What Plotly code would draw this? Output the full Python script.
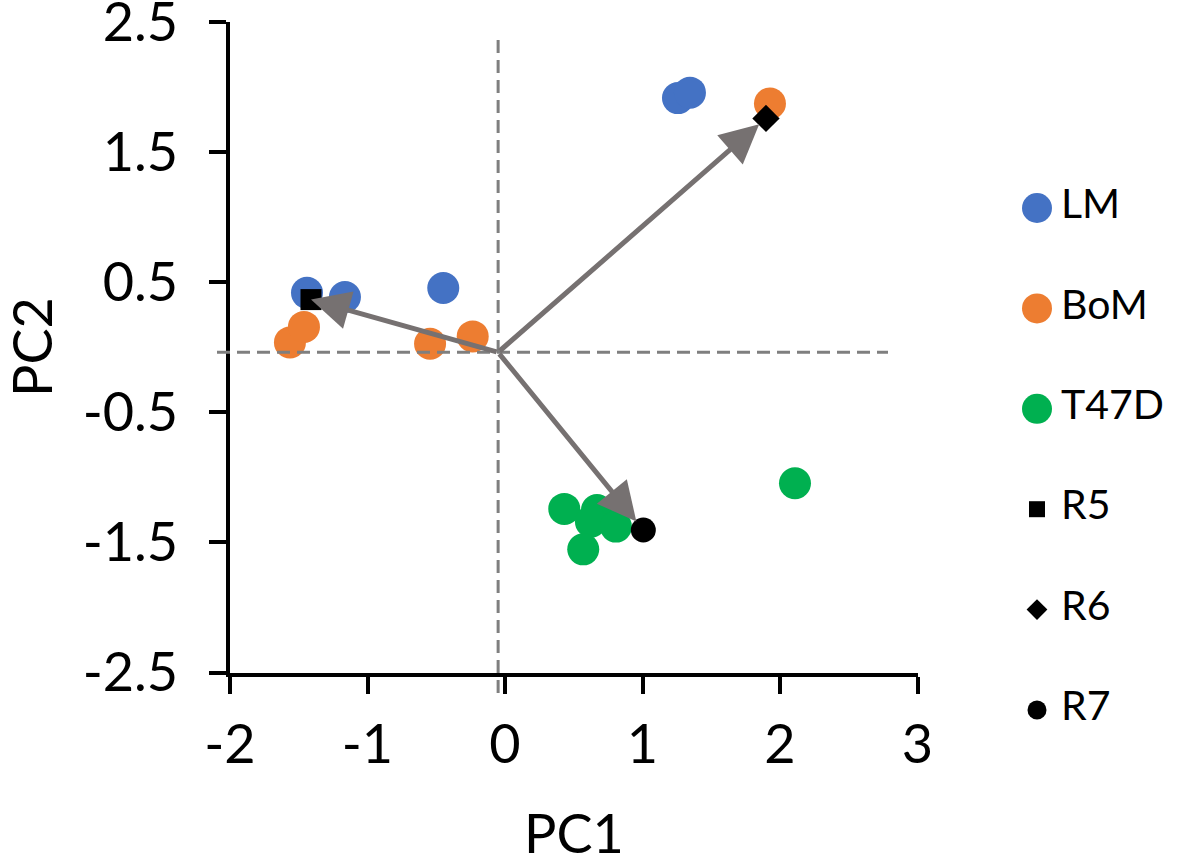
import plotly.graph_objects as go

# ---------------- data ----------------
lm_x = [-1.44, -1.164, -0.449, 1.258, 1.345]
lm_y = [0.417, 0.385, 0.454, 1.913, 1.955]

bom_x = [-1.564, -1.462, -0.545, -0.235, 1.927]
bom_y = [0.036, 0.155, 0.026, 0.082, 1.872]

t47d_x = [0.431, 0.669, 0.625, 0.807, 0.569, 2.109]
t47d_y = [-1.243, -1.252, -1.341, -1.379, -1.554, -1.046]

r5_x, r5_y = [-1.411], [0.365]
r6_x, r6_y = [1.898], [1.757]
r7_x, r7_y = [1.006], [-1.405]

origin_x, origin_y = -0.05, -0.04   # crossing of the dashed reference lines / arrow origin

x_tick_vals = [-2, -1, 0, 1, 2, 3]
x_tick_labels = ["-2", "-1", "0", "1", "2", "3"]
y_tick_vals = [-2.5, -1.5, -0.5, 0.5, 1.5, 2.5]
y_tick_labels = ["-2.5", "-1.5", "-0.5", "0.5", "1.5", "2.5"]

series_names = ["LM", "BoM", "T47D", "R5", "R6", "R7"]

# ---------------- styles ----------------
W, H = 1181, 867
FONT = "Lato"
BLUE, ORANGE, GREEN = "#4472C4", "#ED7D31", "#00B050"
ARROW = "#767171"
DASH = "#7F7F7F"

styles = {
    "LM": dict(color=BLUE, symbol="circle", size=32, lsize=30),
    "BoM": dict(color=ORANGE, symbol="circle", size=32, lsize=30),
    "T47D": dict(color=GREEN, symbol="circle", size=32, lsize=30),
    "R5": dict(color="black", symbol="square", size=21, lsize=16),
    "R6": dict(color="black", symbol="diamond", size=21, lsize=16),
    "R7": dict(color="black", symbol="circle", size=25, lsize=19),
}
data = {
    "LM": (lm_x, lm_y),
    "BoM": (bom_x, bom_y),
    "T47D": (t47d_x, t47d_y),
    "R5": (r5_x, r5_y),
    "R6": (r6_x, r6_y),
    "R7": (r7_x, r7_y),
}

# plot-area pixel geometry
px_l, px_r, px_t, px_b = 230, 917.5, 21.7, 672.5

fig = go.Figure()

for name in series_names:
    xs, ys = data[name]
    st = styles[name]
    fig.add_trace(go.Scatter(
        x=xs, y=ys, mode="markers", name=name, showlegend=False,
        marker=dict(color=st["color"], symbol=st["symbol"], size=st["size"], line=dict(width=0)),
        xaxis="x", yaxis="y",
    ))

# custom legend (second, hidden subplot on the right)
leg_dom = (0.84, 1.0)
leg_px0 = leg_dom[0] * W
leg_w = (leg_dom[1] - leg_dom[0]) * W
marker_fx = (1037 - leg_px0) / leg_w
text_fx = (1061 - leg_px0) / leg_w
leg_y = [208 + 100.4 * i for i in range(len(series_names))]

for i, name in enumerate(series_names):
    st = styles[name]
    fig.add_trace(go.Scatter(
        x=[marker_fx], y=[leg_y[i]], mode="markers", showlegend=False,
        marker=dict(color=st["color"], symbol=st["symbol"], size=st["lsize"], line=dict(width=0)),
        xaxis="x2", yaxis="y2", hoverinfo="skip",
    ))
fig.add_trace(go.Scatter(
    x=[text_fx] * len(series_names), y=leg_y, mode="text", text=series_names,
    textposition="middle right", textfont=dict(family=FONT, size=41, color="black"),
    showlegend=False, xaxis="x2", yaxis="y2", hoverinfo="skip",
))

# arrows from origin to R5, R6, R7
for (tx, ty, so) in [(r5_x[0], r5_y[0], 0), (r6_x[0], r6_y[0], 9), (r7_x[0], r7_y[0], 11)]:
    fig.add_annotation(
        x=tx, y=ty, xref="x", yref="y", ax=origin_x, ay=origin_y, axref="x", ayref="y",
        text="", showarrow=True, arrowhead=2, arrowsize=1.55, arrowwidth=5,
        arrowcolor=ARROW, standoff=so,
    )

# dashed reference lines
fig.add_shape(type="line", xref="x", yref="paper", x0=origin_x, x1=origin_x,
              y0=(H - 693) / H, y1=(H - 35) / H,
              line=dict(color=DASH, width=3, dash="13px,7px"))
fig.add_shape(type="line", xref="paper", yref="y", x0=217 / W, x1=888 / W,
              y0=origin_y, y1=origin_y,
              line=dict(color=DASH, width=3, dash="13px,7px"))

# axis titles
fig.add_annotation(text="PC1", xref="paper", yref="paper", x=(px_l + px_r) / 2 / W, y=(H - 832) / H,
                   showarrow=False, xanchor="center", yanchor="middle",
                   font=dict(family=FONT, size=54, color="black"))
fig.add_annotation(text="PC2", xref="paper", yref="paper", x=31 / W, y=(H - 347) / H,
                   showarrow=False, xanchor="center", yanchor="middle", textangle=-90,
                   font=dict(family=FONT, size=54, color="black"))

axis_common = dict(showgrid=False, zeroline=False, showline=True, linecolor="black", linewidth=4,
                   ticks="outside", ticklen=17, tickwidth=4, tickcolor="black",
                   tickfont=dict(family=FONT, size=54, color="black"), automargin=False,
                   ticklabeloverflow="allow")

fig.update_layout(
    width=W, height=H, template="none",
    paper_bgcolor="white", plot_bgcolor="white",
    margin=dict(l=0, r=0, t=0, b=0),
    showlegend=False,
    xaxis=dict(domain=[px_l / W, px_r / W], range=[-2, 3], tickvals=x_tick_vals, ticktext=x_tick_labels,
               anchor="y", ticklabelstandoff=5, **axis_common),
    yaxis=dict(domain=[(H - px_b) / H, (H - px_t) / H], range=[-2.5, 2.5], tickvals=y_tick_vals,
               ticktext=y_tick_labels, anchor="x", ticklabelstandoff=20, **axis_common),
    xaxis2=dict(domain=list(leg_dom), range=[0, 1], visible=False, anchor="y2"),
    yaxis2=dict(domain=[0, 1], range=[H, 0], visible=False, anchor="x2"),
)

fig.write_html("out.html", config={"displayModeBar": False},
               post_script="document.body.style.margin='0';document.body.style.overflow='hidden';")
